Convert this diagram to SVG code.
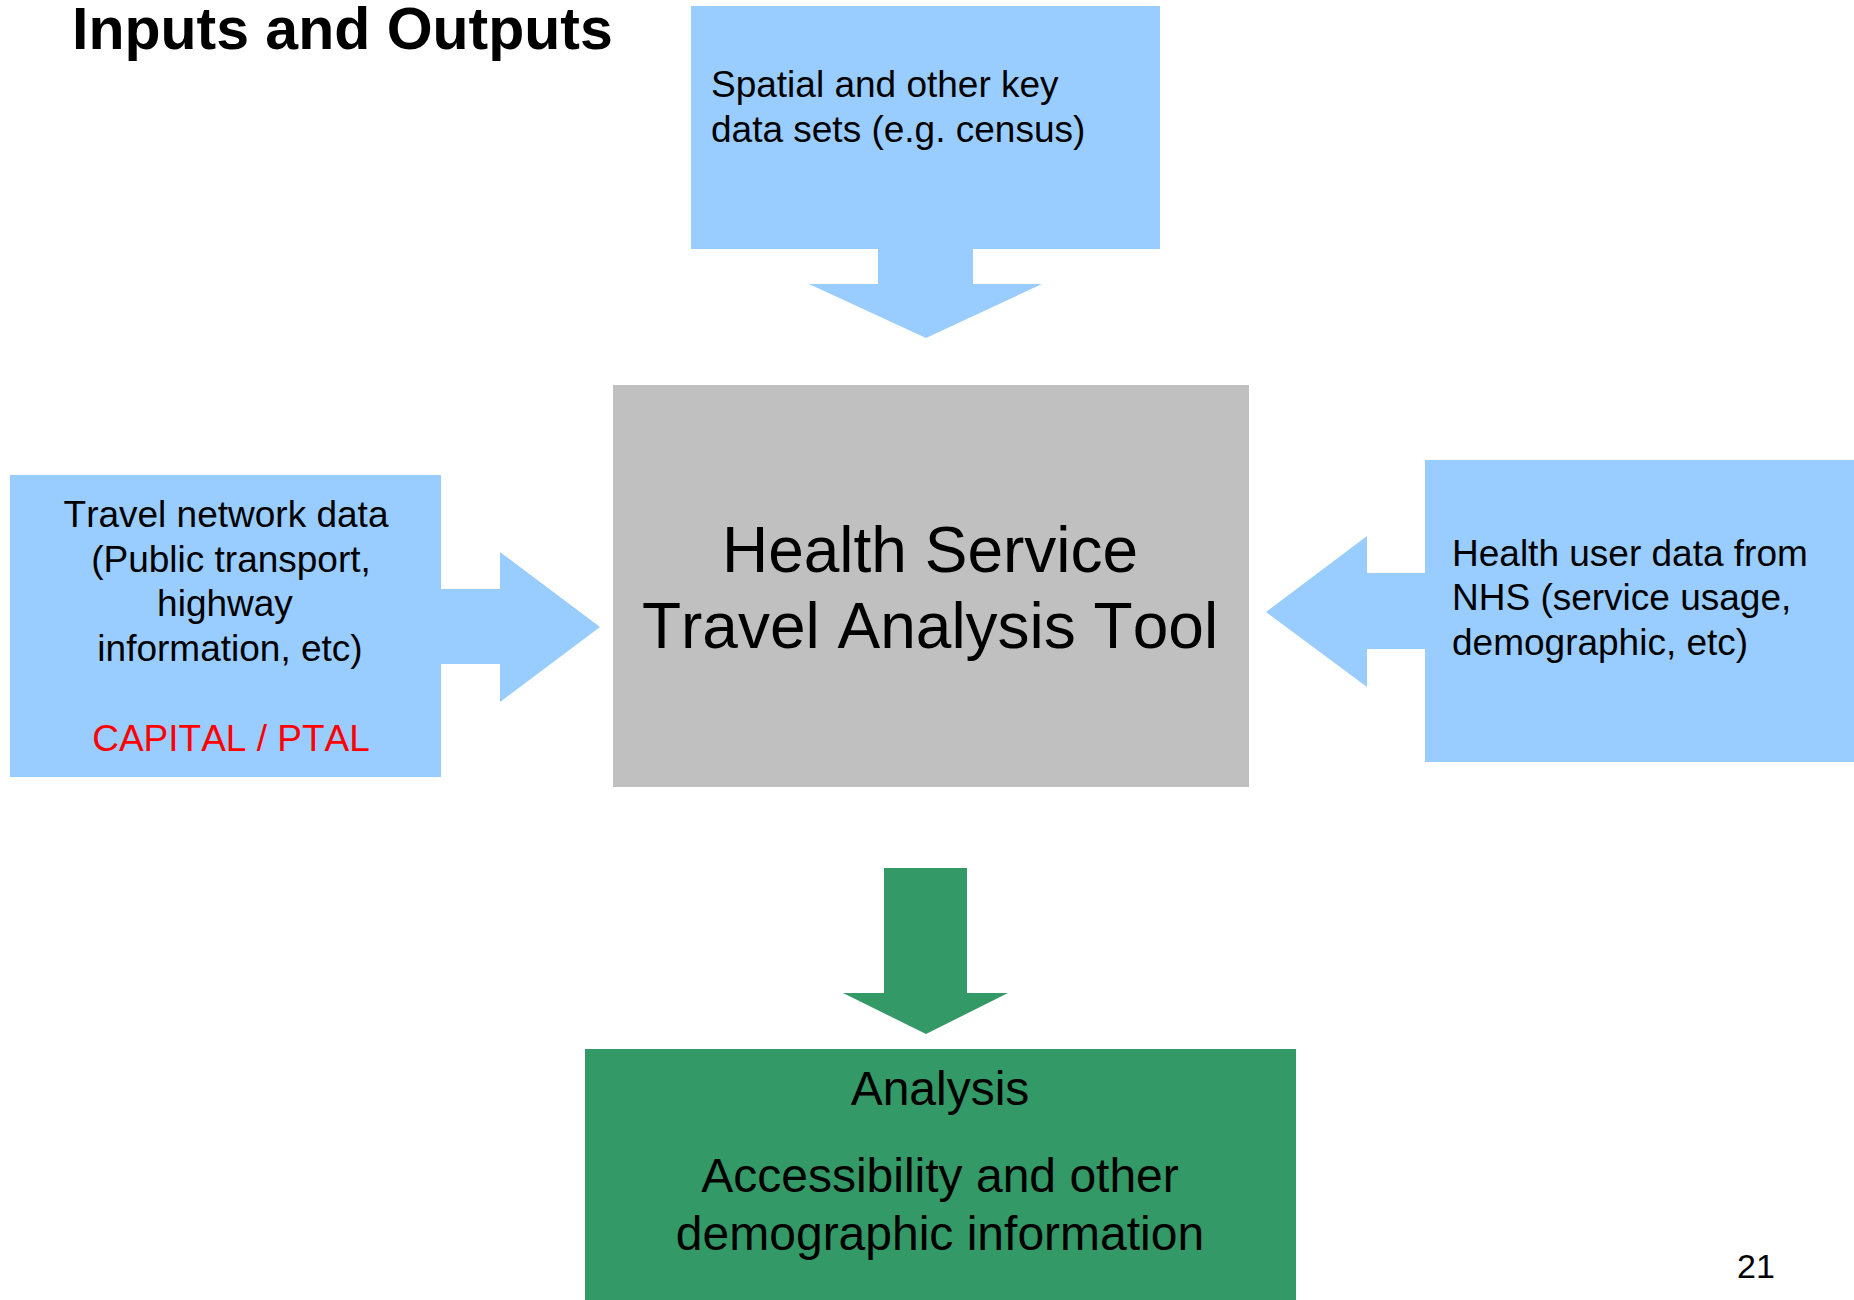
<svg xmlns="http://www.w3.org/2000/svg" width="1854" height="1300" viewBox="0 0 1854 1300">
<style>
text{font-family:"Liberation Sans",Arial,sans-serif;fill:#000;font-kerning:none}
.blue{fill:#99ccff}
.gray{fill:#c0c0c0}
.green{fill:#339966}
.side{font-size:37px}
.mid{text-anchor:middle}
</style>
<rect width="1854" height="1300" fill="#fff"/>
<text x="72" y="49" font-size="59" font-weight="bold">Inputs and Outputs</text>
<g id="connectors">
<polygon class="blue" points="878,248 973,248 973,284 1042,284 926,338 809,284 878,284"/>
<polygon class="blue" points="440,589 500,589 500,552 600,627 500,702 500,664 440,664"/>
<polygon class="blue" points="1426,573 1367,573 1367,536 1266,612 1367,687 1367,649 1426,649"/>
<polygon class="green" points="884,868 967,868 967,993 1008,993 926,1034 843,993 884,993"/>
</g>
<g id="spatial">
<rect class="blue" x="691" y="6" width="469" height="243"/>
<text class="side" x="711" y="97">Spatial and other key</text>
<text class="side" x="711" y="142">data sets (e.g. census)</text>
</g>
<g id="travel-network">
<rect class="blue" x="10" y="475" width="431" height="302"/>
<text class="side mid" x="226" y="527">Travel network data</text>
<text class="side mid" x="231" y="572">(Public transport,</text>
<text class="side mid" x="225" y="616">highway</text>
<text class="side mid" x="230" y="661">information, etc)</text>
<text class="side mid" x="231" y="751" style="fill:#ff0000">CAPITAL / PTAL</text>
</g>
<g id="tool">
<rect class="gray" x="613" y="385" width="636" height="402"/>
<text class="mid" x="930" y="572" font-size="64">Health Service</text>
<text class="mid" x="930" y="648" font-size="64">Travel Analysis Tool</text>
</g>
<g id="health-user">
<rect class="blue" x="1425" y="460" width="429" height="302"/>
<text class="side" x="1452" y="566">Health user data from</text>
<text class="side" x="1452" y="610">NHS (service usage,</text>
<text class="side" x="1452" y="655">demographic, etc)</text>
</g>
<g id="analysis">
<rect class="green" x="585" y="1049" width="711" height="251"/>
<text class="mid" x="940" y="1105" font-size="48">Analysis</text>
<text class="mid" x="940" y="1192" font-size="48">Accessibility and other</text>
<text class="mid" x="940" y="1250" font-size="48">demographic information</text>
</g>
<text x="1737" y="1278" font-size="34">21</text>
</svg>
